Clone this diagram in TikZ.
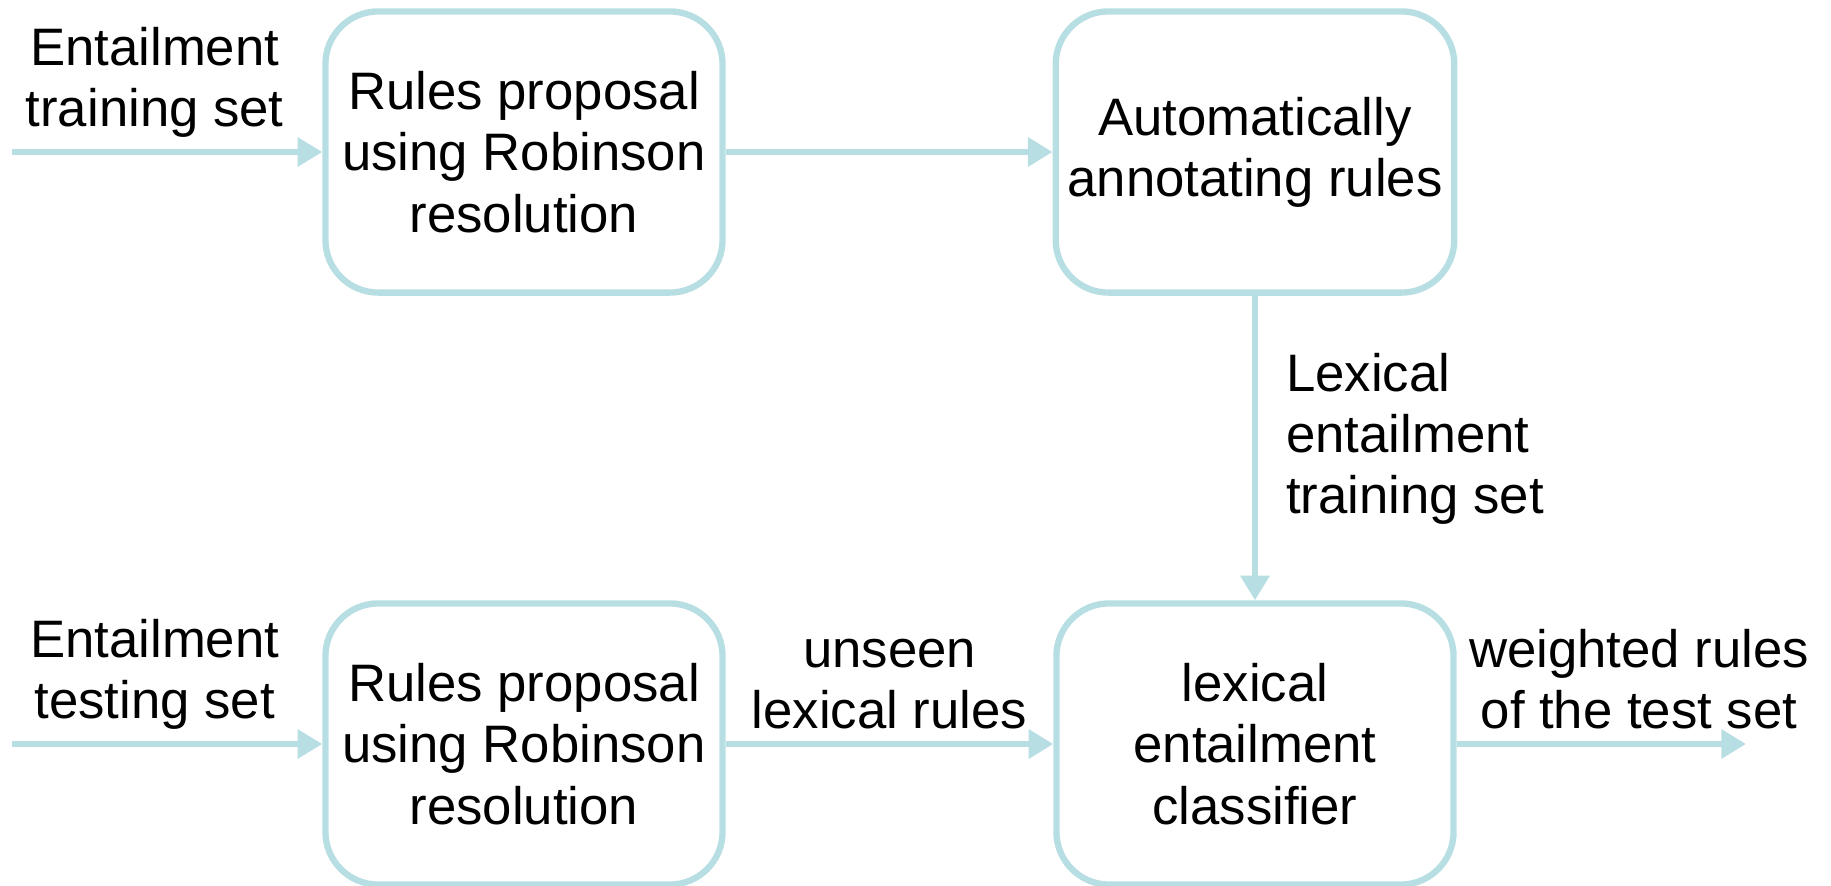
\documentclass[tikz,border=0pt]{standalone}
\usepackage{fontspec}
\setmainfont{Liberation Sans}
\usetikzlibrary{arrows.meta,positioning}
\definecolor{boxblue}{RGB}{183,222,227}

\begin{document}
\begin{tikzpicture}[x=0.1mm,y=-0.1mm,>={Triangle[length=7pt,width=8pt]},auto,node distance=7.31cm,
  every node/.style={font=\fontsize{15}{17.4}\selectfont,align=center},
  stage/.style={draw=boxblue,line width=1.8pt,rounded corners=15pt,minimum width=113pt,minimum height=80pt},
  flow/.style={->,every edge/.style={draw=boxblue,line width=1.7pt}}]
\useasboundingbox (0,0) rectangle (1831,885);

\node[stage]   (prop1) at (524,152)   {Rules proposal\\using Robinson\\resolution};
\node[stage]   (annot) [right of=prop1] {Automatically\\annotating rules};
\node[stage]   (prop2) at (524,744)   {Rules proposal\\using Robinson\\resolution};
\node[stage]   (clf)   [right of=prop2] {lexical\\entailment\\classifier};

\coordinate (in1) at (12,152);
\coordinate (in2) at (12,744);
\coordinate (out) at (1746,744);

\path[flow] (in1)  edge node[pos=0.46]{Entailment\\training set} (prop1)
(prop1) edge (annot)
(annot) edge node[pos=0.47,align=left,inner xsep=8pt]{Lexical\\entailment\\training set} (clf)
(in2)  edge node[pos=0.46]{Entailment\\testing set} (prop2)
(prop2) edge node{unseen\\lexical rules} (clf)
(clf)  edge node[pos=0.63]{weighted rules\\of the test set} (out);

\end{tikzpicture}
\end{document}
